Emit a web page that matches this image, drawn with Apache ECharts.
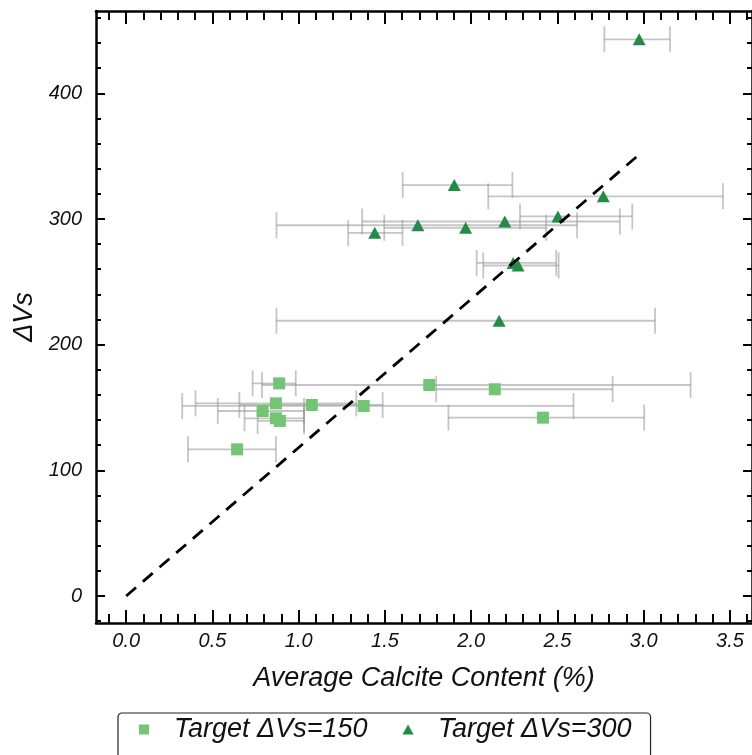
<!DOCTYPE html>
<html>
<head>
<meta charset="utf-8">
<script src="https://cdn.jsdelivr.net/npm/echarts@6/dist/echarts.min.js"></script>
<style>
  html, body { margin: 0; padding: 0; background: #fff; }
  #chart { width: 752px; height: 755px; }
</style>
</head>
<body>
<div id="chart"></div>
<script>
// Target dVs = 150 (squares)
const sqX  = [0.887, 1.757, 2.137, 0.868, 1.076, 1.377, 0.791, 0.868, 0.891, 2.416, 0.643]
const sqY  = [169.2, 167.9, 164.5, 153.3, 152.0, 151.2, 147.2, 141.4, 139.3, 141.9, 116.7]
const sqLo = [0.733, 0.787, 1.797, 0.402, 0.656, 0.325, 0.531, 0.686, 0.762, 1.868, 0.358]
const sqHi = [0.983, 3.272, 2.820, 1.334, 1.487, 2.593, 1.031, 1.031, 1.031, 3.003, 0.868]

// Target dVs = 300 (triangles)
const triX  = [2.974, 1.902, 2.766, 2.503, 2.195, 1.691, 1.968, 1.441, 2.243, 2.272, 2.162]
const triY  = [443, 327, 318, 302, 298, 295, 293, 289, 265, 263, 219]
const triLo = [2.772, 1.603, 2.099, 2.283, 1.368, 0.871, 1.496, 1.287, 2.032, 2.070, 0.871]
const triHi = [3.153, 2.239, 3.460, 2.934, 2.862, 2.614, 2.435, 1.602, 2.493, 2.507, 3.066]

// dashed fit line
const fitX = [0, 2.98]
const fitY = [0, 352]

const xTicks = [0, 0.5, 1.0, 1.5, 2.0, 2.5, 3.0, 3.5]
const yTicks = [0, 100, 200, 300, 400]

const X_MIN = -0.175, X_MAX = 3.628
const Y_MIN = -21.5, Y_MAX = 465.5

const xMinor = []
for (let i = -1; i <= 36; i++) xMinor.push(+(i * 0.1).toFixed(2))
const yMinor = []
for (let v = -20; v <= 460; v += 20) yMinor.push(v)

const FONT = 'Liberation Sans'
const ERR = 'rgba(150,150,150,0.55)'
const SQ_ICON = 'path://M0,0L10,0L10,10L0,10Z'
const TRI_ICON = 'path://M5,0L10,9L0,9Z'

const chart = echarts.init(document.getElementById('chart'))

function errBars(params, api) {
  const y = api.value(1)
  const a = api.coord([api.value(2), y])
  const b = api.coord([api.value(3), y])
  const h = 13
  const style = { stroke: ERR, lineWidth: 1.8 }
  return {
    type: 'group',
    children: [
      { type: 'line', shape: { x1: a[0], y1: a[1], x2: b[0], y2: b[1] }, style },
      { type: 'line', shape: { x1: a[0], y1: a[1] - h, x2: a[0], y2: a[1] + h }, style },
      { type: 'line', shape: { x1: b[0], y1: b[1] - h, x2: b[0], y2: b[1] + h }, style }
    ]
  }
}

function xAxisOf(pos, ticks, len, isMain) {
  return {
    type: 'value', position: pos, min: X_MIN, max: X_MAX,
    axisLine: { show: isMain, onZero: false, lineStyle: { color: '#000', width: 2.5 } },
    axisTick: { show: true, inside: true, length: len, customValues: ticks, lineStyle: { color: '#000', width: 2 } },
    axisLabel: {
      show: isMain && pos === 'bottom', customValues: ticks, margin: 8,
      color: '#111', fontSize: 20, fontStyle: 'italic', fontFamily: FONT,
      formatter: v => v.toFixed(1)
    },
    splitLine: { show: false },
    name: isMain && pos === 'bottom' ? 'Average Calcite Content (%)' : '',
    nameLocation: 'middle', nameGap: 42,
    nameTextStyle: { color: '#111', fontSize: 27, fontStyle: 'italic', fontFamily: FONT }
  }
}

function yAxisOf(pos, ticks, len, isMain) {
  return {
    type: 'value', position: pos, min: Y_MIN, max: Y_MAX,
    axisLine: { show: isMain, onZero: false, lineStyle: { color: '#000', width: 2.5 } },
    axisTick: { show: true, inside: true, length: len, customValues: ticks, lineStyle: { color: '#000', width: 2 } },
    axisLabel: {
      show: isMain && pos === 'left', customValues: ticks, margin: 14,
      color: '#111', fontSize: 20, fontStyle: 'italic', fontFamily: FONT
    },
    splitLine: { show: false },
    name: isMain && pos === 'left' ? 'ΔVs' : '',
    nameLocation: 'middle', nameGap: 44,
    nameTextStyle: { color: '#111', fontSize: 27, fontStyle: 'italic', fontFamily: FONT }
  }
}

const option = {
  animation: false,
  backgroundColor: '#fff',
  grid: { left: 96, top: 11, width: 659, height: 612 },
  xAxis: [
    xAxisOf('bottom', xTicks, 13, true),
    xAxisOf('bottom', xMinor, 9, false),
    xAxisOf('top', xTicks, 13, true),
    xAxisOf('top', xMinor, 9, false)
  ],
  yAxis: [
    yAxisOf('left', yTicks, 9, true),
    yAxisOf('left', yMinor, 5, false),
    yAxisOf('right', yTicks, 9, true),
    yAxisOf('right', yMinor, 5, false)
  ],
  legend: {
    data: [
      { name: 'Target ΔVs=150', icon: SQ_ICON },
      { name: 'Target ΔVs=300', icon: TRI_ICON }
    ],
    left: 118, top: 713,
    padding: [3, 19, 60, 21],
    itemWidth: 50, itemHeight: 10, itemGap: 35,
    symbolKeepAspect: true,
    borderColor: '#222', borderWidth: 1.2, borderRadius: 4,
    backgroundColor: '#fff',
    textStyle: { color: '#111', fontSize: 27, fontStyle: 'italic', fontFamily: FONT }
  },
  series: [
    {
      type: 'custom', name: 'err150', renderItem: errBars, z: 1,
      encode: { x: [2, 3], y: 1 },
      data: sqX.map((x, i) => [x, sqY[i], sqLo[i], sqHi[i]])
    },
    {
      type: 'custom', name: 'err300', renderItem: errBars, z: 1,
      encode: { x: [2, 3], y: 1 },
      data: triX.map((x, i) => [x, triY[i], triLo[i], triHi[i]])
    },
    {
      name: 'Target ΔVs=150', type: 'scatter', z: 3,
      symbol: 'rect', symbolSize: 12,
      itemStyle: { color: '#74c476', opacity: 1 },
      data: sqX.map((x, i) => [x, sqY[i]])
    },
    {
      name: 'Target ΔVs=300', type: 'scatter', z: 3,
      symbol: 'triangle', symbolSize: [13, 12],
      itemStyle: { color: '#238b45', opacity: 1 },
      data: triX.map((x, i) => [x, triY[i]])
    },
    {
      type: 'line', name: 'fit', z: 5, symbol: 'none', silent: true,
      lineStyle: { color: '#000', width: 2.8, type: [13, 9] },
      data: fitX.map((x, i) => [x, fitY[i]])
    }
  ]
}

chart.setOption(option)
</script>
</body>
</html>
